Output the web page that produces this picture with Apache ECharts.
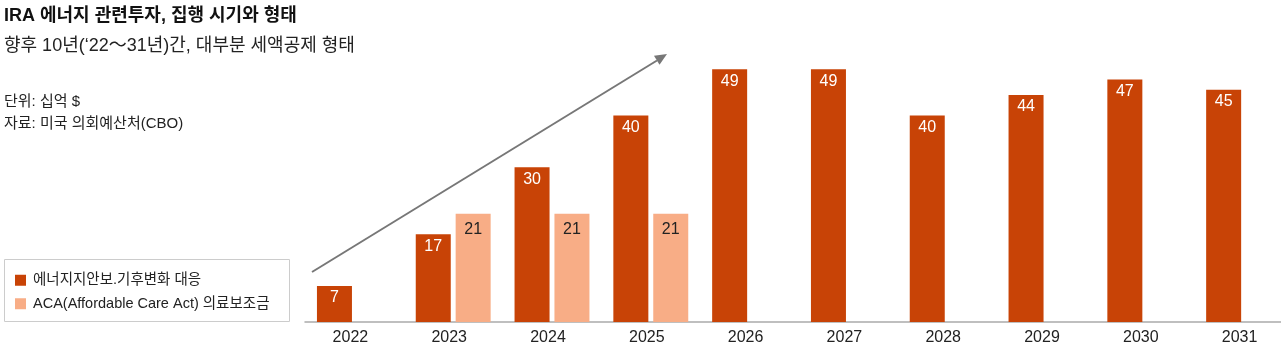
<!DOCTYPE html>
<html>
<head>
<meta charset="utf-8">
<script src="https://cdn.jsdelivr.net/npm/echarts@6/dist/echarts.min.js"></script>
<style>
  html, body { margin: 0; padding: 0; background: #fff; overflow: hidden; }
  #chart { width: 1293px; height: 354px; }
</style>
</head>
<body>
<div id="chart"></div>
<script>
var years = ["2022", "2023", "2024", "2025", "2026", "2027", "2028", "2029", "2030", "2031"];
var energyValues = [7, 17, 30, 40, 49, 49, 40, 44, 47, 45];
var acaValues = [null, 21, 21, 21, null, null, null, null, null, null];
var energyName = "에너지지안보.기후변화 대응";
var acaName = "ACA(Affordable Care Act) 의료보조금";

var font = "'Liberation Sans', 'Noto Sans CJK KR', sans-serif";
// the axis runs a little past the right edge of the window, so the div is wider
var chart = echarts.init(document.getElementById("chart"));

var option = {
  animation: false,
  textStyle: { fontFamily: font },
  title: [
    {
      text: "IRA 에너지 관련투자, 집행 시기와 형태",
      left: 4, top: 7, padding: 0,
      textStyle: { fontFamily: font, fontSize: 18, fontWeight: "bold", color: "#111" }
    },
    {
      text: "향후 10년(‘22～31년)간, 대부분 세액공제 형태",
      left: 4, top: 37, padding: 0,
      textStyle: { fontFamily: font, fontSize: 18, fontWeight: "normal", color: "#222" }
    },
    {
      text: "단위: 십억 $",
      left: 4, top: 94, padding: 0,
      textStyle: { fontFamily: font, fontSize: 15, fontWeight: "normal", color: "#222" }
    },
    {
      text: "자료: 미국 의회예산처(CBO)",
      left: 4, top: 116, padding: 0,
      textStyle: { fontFamily: font, fontSize: 15, fontWeight: "normal", color: "#222" }
    }
  ],
  legend: {
    orient: "vertical",
    left: 10, top: 268,
    itemWidth: 11, itemHeight: 11, itemGap: 9,
    icon: "rect",
    textStyle: { fontFamily: font, fontSize: 14.5, color: "#222", padding: [0, 0, 0, 2] },
    data: [energyName, acaName]
  },
  grid: { left: 305, right: 0, top: 64, bottom: 32 },
  xAxis: {
    type: "category",
    data: years,
    axisLine: { lineStyle: { color: "#aaa", width: 1.5 } },
    axisTick: { show: false },
    axisLabel: { color: "#222", fontSize: 16, margin: 8, fontFamily: font, padding: [0, 8, 0, 0] }
  },
  yAxis: {
    type: "value",
    min: 0, max: 50,
    show: false,
    splitLine: { show: false }
  },
  graphic: [
    {
      type: "rect",
      shape: { x: 4.5, y: 259.5, width: 285, height: 62 },
      style: { fill: "none", stroke: "#ccc", lineWidth: 1 }
    },
    {
      type: "line",
      shape: { x1: 312, y1: 272, x2: 657, y2: 60.5 },
      style: { stroke: "#777", lineWidth: 2 }
    },
    {
      type: "polygon",
      shape: { points: [[667, 54], [659.5, 64.8], [654, 55.8]] },
      style: { fill: "#777" }
    }
  ],
  series: [
    {
      name: energyName,
      type: "bar",
      data: energyValues,
      barWidth: 35,
      barGap: "14%",
      itemStyle: { color: "#c84306" },
      label: {
        show: true, position: "insideTop", distance: 4,
        color: "#fff", fontSize: 16, fontFamily: font
      }
    },
    {
      name: acaName,
      type: "bar",
      data: acaValues,
      barWidth: 35,
      itemStyle: { color: "#f8ad86" },
      label: {
        show: true, position: "insideTop", distance: 8,
        color: "#222", fontSize: 16, fontFamily: font
      }
    }
  ]
};

chart.setOption(option);
</script>
</body>
</html>
